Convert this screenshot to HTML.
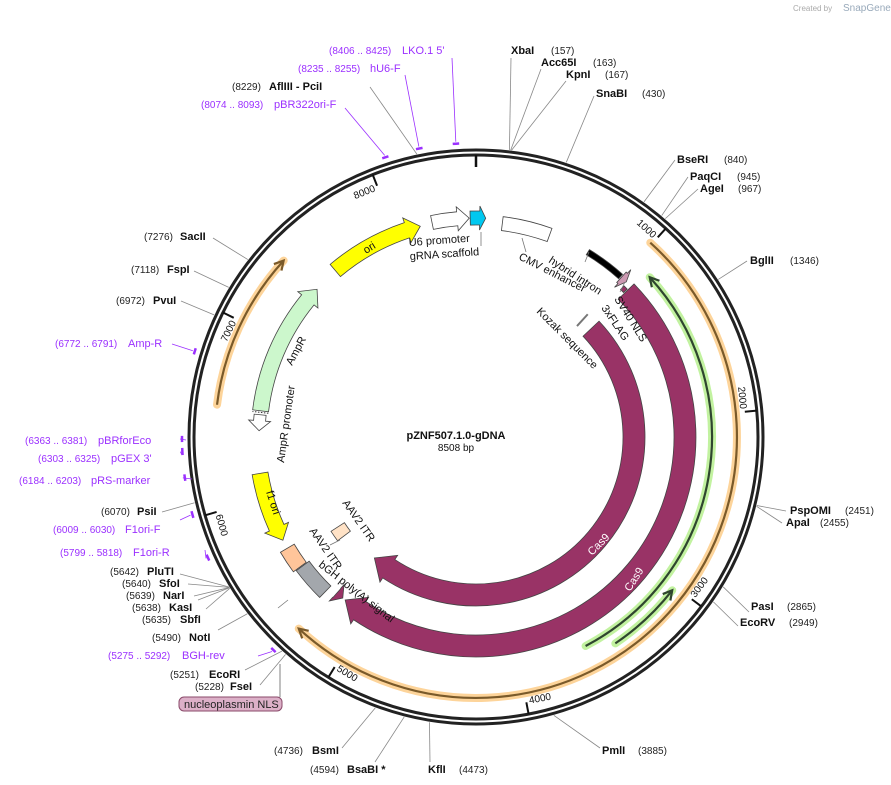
<!DOCTYPE html>
<html><head><meta charset="utf-8"><style>
html,body{margin:0;padding:0;background:#fff;}
svg{display:block;font-family:"Liberation Sans","DejaVu Sans",sans-serif;}
</style></head><body>
<svg id="map" width="891" height="785" viewBox="0 0 891 785" xmlns="http://www.w3.org/2000/svg">
<text x="793" y="11" font-size="8" fill="#aaa">Created by</text>
<text x="843" y="11" font-size="10" fill="#9ab">SnapGene</text>
<g id="layer"></g>
</svg>
<script>
// ---- data ----
const totalBp = 8508;
const enzNames = ["XbaI","Acc65I","KpnI","SnaBI","BseRI","PaqCI","AgeI","BglII","PspOMI","ApaI","PasI","EcoRV","PmlI","KflI","BsaBI *","BsmI","FseI","EcoRI","NotI","SbfI","KasI","NarI","SfoI","PluTI","PsiI","PvuI","FspI","SacII","AflIII - PciI"];
const enzPos = [157,163,167,430,840,945,967,1346,2451,2455,2865,2949,3885,4473,4594,4736,5228,5251,5490,5635,5638,5639,5640,5642,6070,6972,7118,7276,8229];
const primerNames = ["LKO.1 5'","hU6-F","pBR322ori-F","Amp-R","pBRforEco","pGEX 3'","pRS-marker","F1ori-F","F1ori-R","BGH-rev"];
const primerStart = [8406,8235,8074,6772,6363,6303,6184,6009,5799,5275];
const primerEnd = [8425,8255,8093,6791,6381,6325,6203,6030,5818,5292];
const featNames = ["ori","U6 promoter","gRNA scaffold","CMV enhancer","hybrid intron","SV40 NLS","3xFLAG","Cas9","Cas9","bGH poly(A) signal","AAV2 ITR","AAV2 ITR","f1 ori","AmpR promoter","AmpR","nucleoplasmin NLS"];
const featStart = [7558,8234,8472,166,737,1000,1050,1085,1104,5300,5520,5510,5716,6420,6545,5190];
const featEnd = [8158,8466,8568,473,993,1042,1078,5170,5200,5515,5660,5600,6155,6520,7395,5240];
const tickVals = [1000,2000,3000,4000,5000,6000,7000,8000];

// ---- geometry ----
const cx=476, cy=437;
const NS="http://www.w3.org/2000/svg";
const layer=document.getElementById('layer');
function ang(bp){return bp/totalBp*2*Math.PI;}
function P(a,r){return [cx+r*Math.sin(a), cy-r*Math.cos(a)];}
function f(p){return p[0].toFixed(2)+","+p[1].toFixed(2);}
function mk(tag,attrs,parent){const e=document.createElementNS(NS,tag);for(const k in attrs)e.setAttribute(k,attrs[k]);(parent||layer).appendChild(e);return e;}
function arc(a1,a2,r,sweep){const large=Math.abs(a2-a1)>Math.PI?1:0;return "A"+r+","+r+" 0 "+large+","+sweep+" "+f(P(a2,r));}
function band(b1,b2,r,w,dir,head,flare){
  let a1=ang(b1),a2=ang(b2);const r1=r-w/2,r2=r+w/2;const hl=head/r;
  if(dir===1){const e=a2-hl;
    return "M"+f(P(a1,r2))+arc(a1,e,r2,1)+"L"+f(P(e,r2+flare))+"L"+f(P(a2,r))+"L"+f(P(e,r1-flare))+"L"+f(P(e,r1))+arc(e,a1,r1,0)+"Z";}
  if(dir===-1){const s=a1+hl;
    return "M"+f(P(s,r2))+arc(s,a2,r2,1)+"L"+f(P(a2,r1))+arc(a2,s,r1,0)+"L"+f(P(s,r1-flare))+"L"+f(P(a1,r))+"L"+f(P(s,r2+flare))+"Z";}
  return "M"+f(P(a1,r2))+arc(a1,a2,r2,1)+"L"+f(P(a2,r1))+arc(a2,a1,r1,0)+"Z";
}
function txt(x,y,s,attrs,rot){const t=mk('text',Object.assign({x:x,y:y},attrs));t.textContent=s;if(rot)t.setAttribute('transform','rotate('+rot+' '+x+' '+y+')');return t;}

let e;
// ---- orange & green overlays ----
function glow(b1,b2,r,halo,line,dir,name){
  const g=mk('g',{});
  
  
  const a1=ang(b1),a2=ang(b2);
  mk('path',{d:"M"+f(P(a1,r))+arc(a1,a2,r,1),fill:'none',stroke:halo,'stroke-width':8,'stroke-linecap':'round'},g);
  mk('path',{d:"M"+f(P(a1,r))+arc(a1,a2,r,1),fill:'none',stroke:line,'stroke-width':2.2},g);
  const tip=dir===1?a2:a1, back=dir===1?a2-9/r:a1+9/r;
  mk('path',{d:"M"+f(P(back,r-5))+"L"+f(P(tip,r))+"L"+f(P(back,r+5)),fill:'none',stroke:line,'stroke-width':2.2},g);
}
glow(990,5265,261,'#fdd49a','#7a5a2a',1,'orange-arc-right');
glow(6549,7386,261,'#fdd49a','#7a5a2a',1,'orange-arc-left');
glow(1120,3600,236,'#c2f2a0','#2f452f',-1,'green-arc-long');
glow(3025,3450,249,'#c2f2a0','#2f452f',-1,'green-arc-short');

// ---- backbone ring ----
e=mk('circle',{cx:cx,cy:cy,r:287,fill:'none',stroke:'#222','stroke-width':3});


e=mk('circle',{cx:cx,cy:cy,r:282,fill:'none',stroke:'#222','stroke-width':3});


e=mk('line',{x1:cx,y1:cy-282,x2:cx,y2:cy-270,stroke:'#111','stroke-width':2.5});



// ticks
tickVals.forEach(v=>{
  const a=ang(v);
  const l=mk('line',{x1:P(a,282)[0],y1:P(a,282)[1],x2:P(a,270)[0],y2:P(a,270)[1],stroke:'#111','stroke-width':2});
  
  
  const deg=a*180/Math.PI; let rot=deg; if(deg>90&&deg<270) rot=deg-180; if(deg>=270) rot=deg-360;
  const flip=(deg>90&&deg<270);
  const q=P(a,272);
  const t=mk('text',{x:q[0],y:q[1],'font-size':10,fill:'#111'});
  t.textContent=String(v);
  if(flip){t.setAttribute('text-anchor','start');
    t.setAttribute('transform','rotate('+rot+' '+q[0]+' '+q[1]+') translate(3,0)');}
  else{t.setAttribute('text-anchor','end');t.setAttribute('dominant-baseline','hanging');
    t.setAttribute('transform','rotate('+rot+' '+q[0]+' '+q[1]+') translate(-3,0)');}
  
  
});

// ---- features ----
const featStyle=[
 {r:218,w:16,dir:1,fill:'#ffff00',head:14},
 {r:219,w:14,dir:1,fill:'#ffffff',head:12},
 {r:219,w:14,dir:1,fill:'#00c8f0',head:6},
 {r:215,w:14,dir:0,fill:'#ffffff',head:0},
 {r:216,w:6,dir:0,fill:'#000000',head:0},
 {r:216,w:14,dir:1,fill:'#cc99b2',head:5},
 {r:209,w:5,dir:0,fill:'#993366',head:0},
 {r:209,w:22,dir:1,fill:'#993366',head:18},
 {r:158,w:22,dir:1,fill:'#993366',head:18},
 {r:216,w:16,dir:0,fill:'#a3a7ac',head:0},
 {r:219,w:16,dir:0,fill:'#ffc59a',head:0},
 {r:165,w:16,dir:0,fill:'#ffe2c6',head:0},
 {r:219,w:16,dir:-1,fill:'#ffff00',head:14},
 {r:217,w:12,dir:-1,fill:'#ffffff',head:10},
 {r:217,w:16,dir:1,fill:'#ccf7cc',head:14},
 {r:209,w:12,dir:-1,fill:'#993366',head:8}
];
featNames.forEach((n,i)=>{
  const s=featStyle[i];
  const p=mk('path',{d:band(featStart[i],featEnd[i],s.r,s.w,s.dir,s.head,5),fill:s.fill,stroke:'#444','stroke-width':0.8});
  
  
});
(function(){const a=ang(6535);e=mk('line',{x1:P(a,209)[0],y1:P(a,209)[1],x2:P(a,225)[0],y2:P(a,225)[1],stroke:'#333','stroke-dasharray':'1.5,1.5'});

})();
(function(){const a=ang(1000);e=mk('line',{x1:P(a,150)[0],y1:P(a,150)[1],x2:P(a,166)[0],y2:P(a,166)[1],stroke:'#777','stroke-width':2});

})();

// feature labels
const FL=[
 ["ori",366,254,-32,11,'#111'],["U6 promoter",409,246,-4,11,'#111'],["gRNA scaffold",410,260,-4,11,'#111'],
 ["CMV enhancer",518,259,27,11,'#111'],["hybrid intron",548,262,33,11,'#111'],["SV40 NLS",614,299,58,11,'#111'],
 ["3xFLAG",601,308,56,11,'#111'],["Kozak sequence",536,312,45,11,'#111'],["AmpR",292,366,-62,11,'#111'],
 ["AmpR promoter",284,463,-82,11,'#111'],["f1 ori",266,492,72,11,'#111'],["AAV2 ITR",342,503,55,11,'#111'],
 ["AAV2 ITR",309,531,55,11,'#111'],["bGH poly(A) signal",318,566,38,11,'#111'],["Cas9",592,556,-45,11,'#fff'],["Cas9",630,592,-57,11,'#fff']
];
FL.forEach((l,i)=>{const t=txt(l[1],l[2],l[0],{'font-size':l[4],fill:l[5]},l[3]);
 
 });
[[481,232,481,246],[522,238,526,252],[585,262,589,252],[620,292,625,282],[330,545,340,540],[288,600,278,608]].forEach((c,i)=>{
 e=mk('line',{x1:c[0],y1:c[1],x2:c[2],y2:c[3],stroke:'#777','stroke-width':0.8});
 
 });

// nucleoplasmin box
e=mk('line',{x1:280,y1:697,x2:280,y2:664,stroke:'#aaa','stroke-width':1.5});


e=mk('rect',{x:179,y:697,width:103,height:14,rx:5,fill:'#dcb0c8',stroke:'#8a4a6a','stroke-width':1});


e=txt(184,708,"nucleoplasmin NLS",{'font-size':11,fill:'#222'});



// ---- enzymes ----
const enzLayout=[
 [511,54,551,1,511,58],[541,66,593,1,541,69],[566,78,605,1,566,81],[596,97,642,1,594,96],
 [677,163,724,1,675,160],[690,180,737,1,688,177],[700,192,738,1,698,189],[750,264,790,1,747,261],
 [790,514,845,1,786,511],[786,526,820,1,782,523],[751,610,787,1,749,612],[740,626,789,1,738,626],
 [602,754,638,1,600,748],[428,773,459,1,430,762],[347,773,310,0,375,762],[312,754,274,0,342,748],
 [230,690,195,0,260,685],[209,678,170,0,245,670],[189,641,152,0,218,630],[180,623,142,0,206,609],
 [169,611,132,0,198,600],[163,599,126,0,194,596],[159,587,122,0,188,584],[147,575,110,0,180,574],
 [137,515,101,0,162,512],[153,304,116,0,181,301],[167,273,131,0,194,271],[180,240,144,0,213,238],
 [269,90,232,0,370,87]
];
enzNames.forEach((n,i)=>{
  const L=enzLayout[i]; const a=ang(enzPos[i]); const p=P(a,289);
  const ln=mk('polyline',{points:f(p)+" "+L[4]+","+L[5],fill:'none',stroke:'#888','stroke-width':0.8});
  
  
  const t=txt(L[0],L[1],n,{'font-size':11,'font-weight':'bold',fill:'#111'});
  
  
  const t2=txt(L[2],L[1],"("+enzPos[i]+")",{'font-size':10,fill:'#222'});
  
  
});

// ---- primers ----
const primLayout=[[329,402,54,452,58],[298,370,72,405,75],[201,274,108,345,108],[55,128,347,172,344],
 [25,98,444,186,440],[38,111,462,182,455],[19,91,484,192,479],[53,125,533,180,520],[60,133,556,205,550],[108,182,659,258,656]];
primerNames.forEach((n,i)=>{
  const L=primLayout[i]; const a1=ang(primerStart[i]), a2=ang(primerEnd[i]); const am=(a1+a2)/2;
  const mark=mk('path',{d:"M"+f(P(a1-0.004,294))+arc(a1-0.004,a2+0.004,294,1),fill:'none',stroke:'#9b30ff','stroke-width':2.5});
  
  
  const pm=P(am,296);
  const ln=mk('polyline',{points:f(pm)+" "+L[3]+","+L[4],fill:'none',stroke:'#9b30ff','stroke-width':0.8});
  
  
  const t=txt(L[0],L[2],"("+primerStart[i]+" .. "+primerEnd[i]+")",{'font-size':10,fill:'#9b30ff'});
  
  
  const t2=txt(L[1],L[2],n,{'font-size':11,fill:'#9b30ff'});
  
  
});

// ---- title ----
e=txt(456,439,"pZNF507.1.0-gDNA",{'font-size':11,'font-weight':'bold',fill:'#111','text-anchor':'middle'});


e=txt(456,451,"8508 bp",{'font-size':10,fill:'#111','text-anchor':'middle'});


</script>
</body></html>
